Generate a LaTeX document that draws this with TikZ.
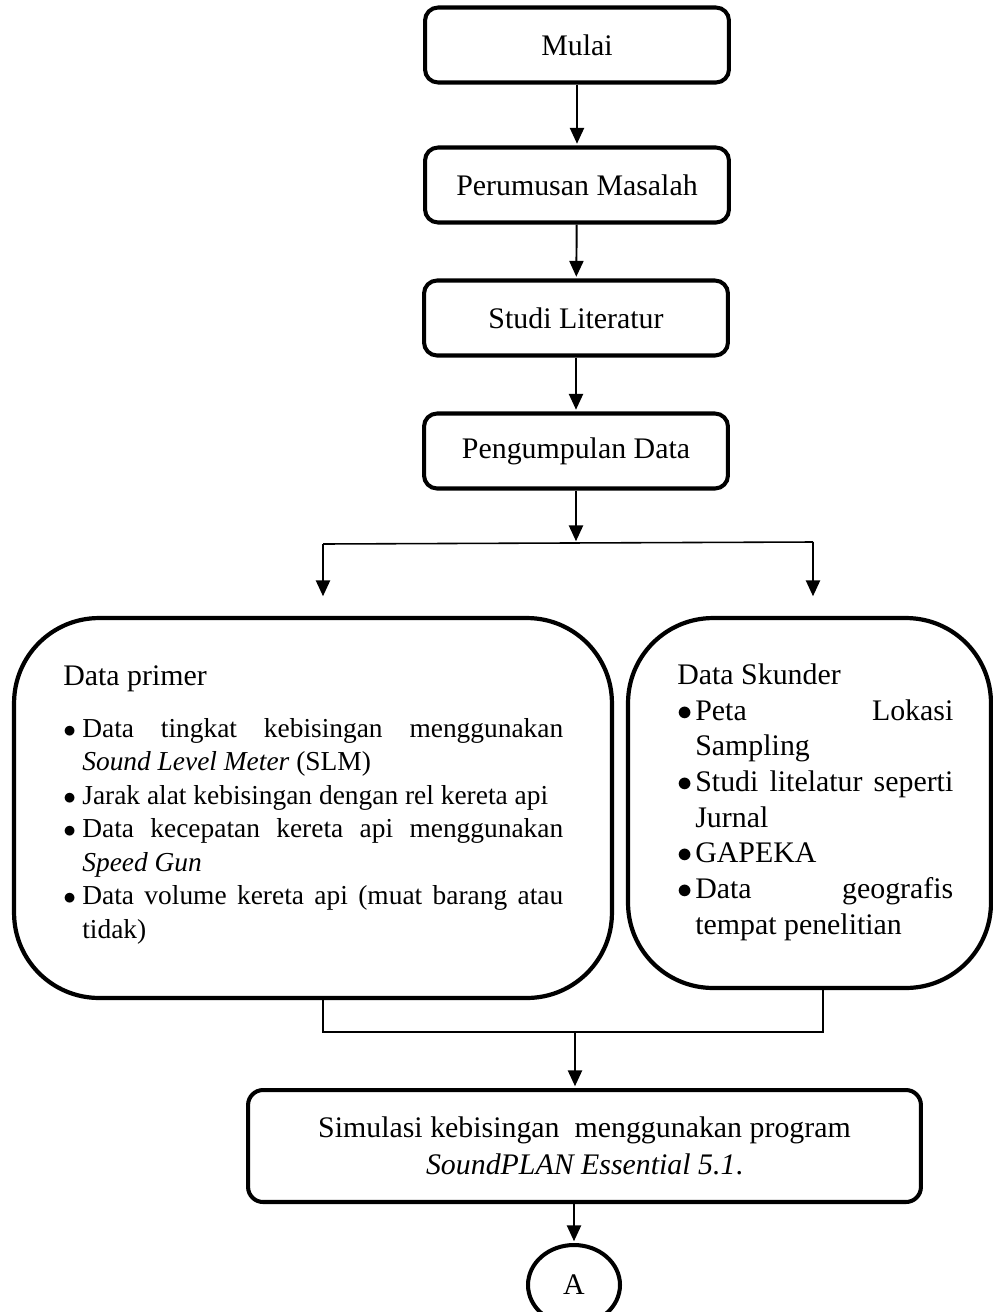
\documentclass[tikz,border=0pt]{standalone}
\usepackage{fontspec}
\setmainfont{Liberation Serif}
\usetikzlibrary{arrows.meta,shapes.geometric}
\newcommand\fsbig{\fontsize{17}{20.4}\selectfont}
\newcommand\lbitem[1]{\noindent\hangindent=0.38cm\hangafter=1\makebox[0.38cm][l]{$\bullet$}#1\par}
\newcommand\rbitem[1]{\noindent\hangindent=0.36cm\hangafter=1\makebox[0.36cm][l]{$\bullet$}#1\par}
\begin{document}
\begin{tikzpicture}[x=0.02cm,y=-0.02cm,
  box/.style={draw, line width=2.3pt, rounded corners=0.26cm, minimum width=6.08cm, minimum height=1.5cm, inner sep=0pt, font=\fsbig},
  bigbox/.style={draw, line width=2.4pt, rounded corners=1.7cm, inner sep=0pt},
  conn/.style={line width=1.1pt, -{Triangle[length=9pt,width=8pt]}, shorten >=1pt},
  link/.style={line width=0.9pt},
  txt/.style={inner sep=0pt, anchor=base west}]
\useasboundingbox (0,0) rectangle (993,1312);

% top chain
\node[box] (mulai) at (577,45) {Mulai};
\node[box] (perum) at (577,185) {Perumusan Masalah};
\node[box] (studi) at (576,318) {Studi Literatur};
\node[box] (kumpul) at (576,451) {Pengumpulan Data};

\draw[conn] (mulai) -- (perum);
\draw[conn] (perum) -- (studi);
\draw[conn] (studi) -- (kumpul);

% branch
\coordinate (bc) at (576,543);
\coordinate (bl) at (323,544);
\coordinate (br) at (813,542);
\coordinate (blt) at (323,598);
\coordinate (brt) at (813,598);
\draw[conn] (kumpul) -- (bc);
\draw[link] (bl) -- (br);
\draw[conn] (bl) -- (blt);
\draw[conn] (br) -- (brt);

% big boxes
\node[bigbox, minimum width=11.96cm, minimum height=7.6cm] (lbox) at (313,808) {};
\node[bigbox, minimum width=7.26cm, minimum height=7.4cm] (rbox) at (809.5,803) {};

\node[txt, font=\fsbig] (ptitle) at (63,685) {Data primer};
\node[txt, text width=10cm, align=justify, font=\fontsize{15.6}{19.1}\selectfont] (plist) at (63,737) {%
\lbitem{Data tingkat kebisingan menggunakan\linebreak \textit{Sound Level Meter} (SLM)}%
\lbitem{Jarak alat kebisingan dengan rel kereta api}%
\lbitem{Data kecepatan kereta api menggunakan\linebreak \textit{Speed Gun}}%
\lbitem{Data volume kereta api (muat barang atau\linebreak tidak)}};

\node[txt, font=\fsbig] (stitle) at (677,684) {Data Skunder};
\node[txt, text width=5.52cm, align=justify, font=\fontsize{17}{20.3}\selectfont] (slist) at (677,720) {%
\rbitem{Peta Lokasi\linebreak Sampling}%
\rbitem{Studi litelatur seperti\linebreak Jurnal}%
\rbitem{GAPEKA}%
\rbitem{Data geografis\linebreak tempat penelitian}};

% join
\coordinate (jl) at (323,1032);
\coordinate (jr) at (823,1032);
\coordinate (jm) at (575,1032);
\draw[link] (lbox.south -| jl) -- (jl) -- (jr) -- (rbox.south -| jr);

% simulation
\node[draw, line width=2.3pt, rounded corners=0.3cm, minimum width=13.46cm, minimum height=2.24cm, inner sep=0pt, align=center, font=\fontsize{17}{20.4}\selectfont] (sim) at (584.5,1146)
  {Simulasi kebisingan\ \ menggunakan program\\[0.5pt]\textit{SoundPLAN Essential 5.1}.};
\draw[conn] (jm) -- (sim.north -| jm);

\node[draw, ellipse, line width=2.3pt, minimum width=1.84cm, minimum height=1.6cm, inner sep=0pt, font=\fsbig] (circA) at (574,1285) {A};
\draw[conn] (sim.south -| circA) -- (circA);
\end{tikzpicture}
\end{document}
